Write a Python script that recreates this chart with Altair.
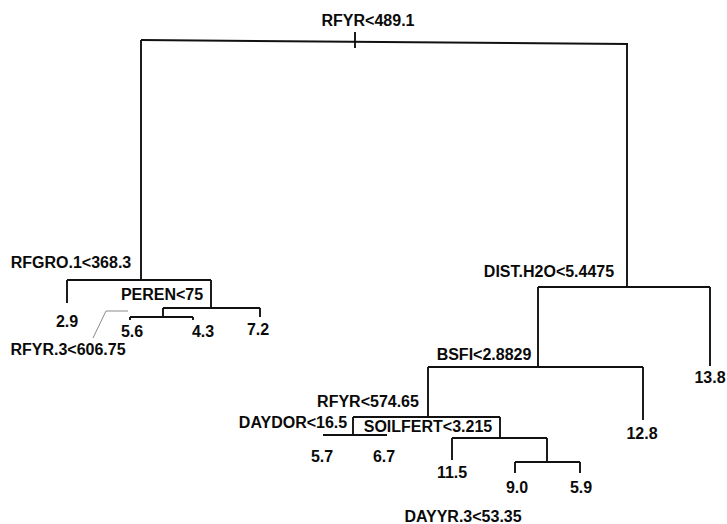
import altair as alt
import pandas as pd

W, H = 727, 524

# Split (internal node) labels and their positions
split_labels = ["RFYR<489.1", "RFGRO.1<368.3", "PEREN<75", "RFYR.3<606.75",
                "DIST.H2O<5.4475", "BSFI<2.8829", "RFYR<574.65", "DAYDOR<16.5",
                "SOILFERT<3.215", "DAYYR.3<53.35"]
split_lx = [368, 71, 162, 68, 549, 484, 368, 293, 428, 463]
split_ly = [21, 263, 295, 350, 272, 355, 402, 423, 427, 517]

# Leaf (terminal node) values and positions
leaf_values = ["2.9", "5.6", "4.3", "7.2", "13.8", "12.8", "5.7", "6.7", "11.5", "9.0", "5.9"]
leaf_x = [67, 132, 203, 258, 710, 642, 322, 384, 452, 517, 581]
leaf_y = [322, 332, 332, 330, 378, 434, 457, 457, 473, 488, 488]

# Tree branches: horizontal bars (x1, y1, x2, y2)
bar_x1 = [141, 67, 163, 130, 538, 428, 353, 323, 452, 515]
bar_y1 = [40, 280, 308, 317, 287, 367, 417, 435, 438, 462]
bar_x2 = [628, 211, 260, 193, 710, 643, 500, 387, 547, 580]
bar_y2 = [44, 280, 308, 317, 287, 367, 417, 435, 438, 462]

# Vertical drops (x, y_top, y_bottom)
drop_x = [355, 141, 627, 67, 211, 260, 163, 130, 193, 538, 710, 428, 643, 353, 500, 452, 547, 515, 580]
drop_y1 = [32, 40, 44, 280, 280, 308, 308, 317, 317, 287, 287, 367, 367, 417, 417, 438, 438, 462, 462]
drop_y2 = [48, 280, 287, 303, 308, 317, 317, 320, 320, 367, 366, 417, 420, 435, 438, 460, 462, 473, 473]

# Thin pointer line to the RFYR.3 label
ptr_x1 = [93, 106]
ptr_y1 = [338, 311]
ptr_x2 = [106, 128]
ptr_y2 = [311, 311]

segs = pd.DataFrame({
    "x": bar_x1 + drop_x,
    "y": bar_y1 + drop_y1,
    "x2": bar_x2 + drop_x,
    "y2": bar_y2 + drop_y2,
})
ptr = pd.DataFrame({"x": ptr_x1, "y": ptr_y1, "x2": ptr_x2, "y2": ptr_y2})
splits = pd.DataFrame({"label": split_labels, "x": split_lx, "y": split_ly})
leaves = pd.DataFrame({"label": leaf_values, "x": leaf_x, "y": leaf_y})

xs = alt.Scale(domain=[0, W], range=[0, W])
ys = alt.Scale(domain=[0, H], range=[0, H])

X = lambda: alt.X("x:Q", scale=xs, axis=None)
Y = lambda: alt.Y("y:Q", scale=ys, axis=None)

branches = alt.Chart(segs).mark_rule(color="#111111", strokeWidth=1.9).encode(
    x=X(), y=Y(), x2="x2:Q", y2="y2:Q")
pointer = alt.Chart(ptr).mark_rule(color="#8a8a8a", strokeWidth=1).encode(
    x=X(), y=Y(), x2="x2:Q", y2="y2:Q")

font = "Liberation Sans"
split_text = alt.Chart(splits).mark_text(
    font=font, fontSize=16, fontWeight="bold", color="#0a0a0a",
    align="center", baseline="middle").encode(x=X(), y=Y(), text="label:N")
leaf_text = alt.Chart(leaves).mark_text(
    font=font, fontSize=16, fontWeight="bold", color="#0a0a0a",
    align="center", baseline="middle").encode(x=X(), y=Y(), text="label:N")

chart = alt.layer(branches, pointer, split_text, leaf_text).properties(
    width=W, height=H, padding=0,
    autosize=alt.AutoSizeParams(type="none"),
    background="white",
).configure_view(stroke=None)

chart.save("out.html", embed_options={"renderer": "svg", "actions": False})
